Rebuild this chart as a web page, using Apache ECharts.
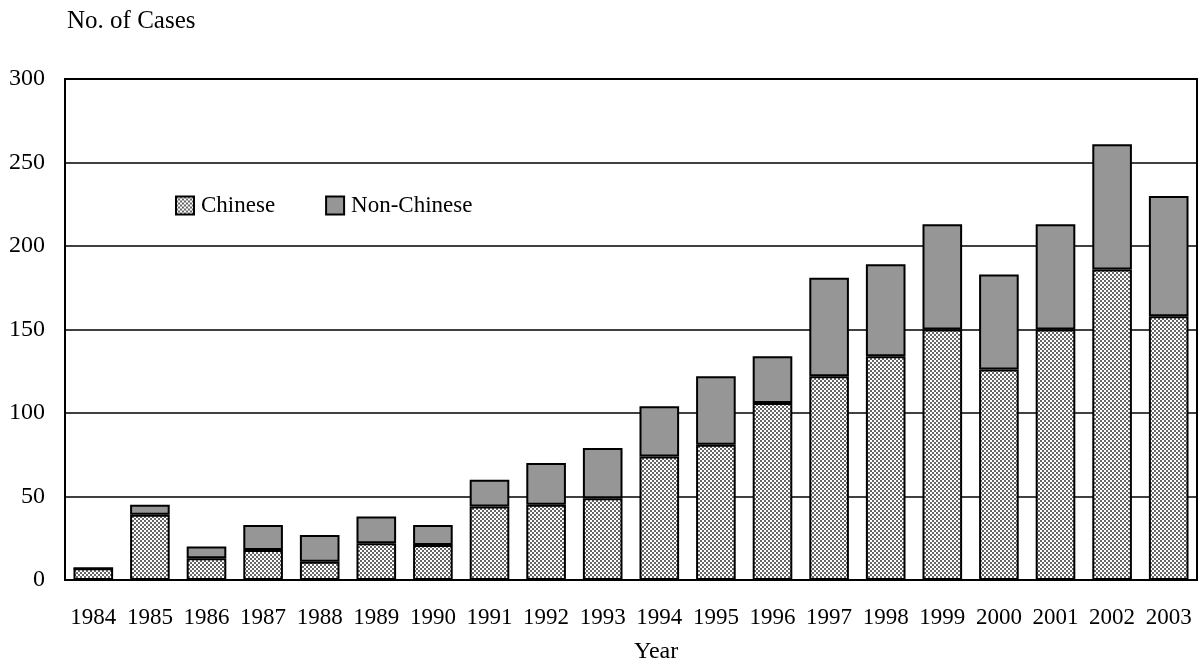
<!DOCTYPE html>
<html>
<head>
<meta charset="utf-8">
<script src="https://cdn.jsdelivr.net/npm/echarts@6/dist/echarts.min.js"></script>
<style>
html,body{margin:0;padding:0;background:#fff;}
#chart{width:1202px;height:672px;}
</style>
</head>
<body>
<div id="chart"></div>
<script>
var years = ['1984','1985','1986','1987','1988','1989','1990','1991','1992','1993','1994','1995','1996','1997','1998','1999','2000','2001','2002','2003'];
var chinese = [7,39,13,18,11,22,21,44,45,49,74,81,106,122,134,150,126,150,186,158];
var nonChinese = [0,6,7,15,16,16,12,16,25,30,30,41,28,59,55,63,57,63,75,72];
var yTicks = [0,50,100,150,200,250,300];

var FONT = '"Liberation Serif", "Times New Roman", serif';

// checkered fill pattern
var pc = document.createElement('canvas');
pc.width = 4; pc.height = 4;
var ctx = pc.getContext('2d');
ctx.fillStyle = '#ffffff'; ctx.fillRect(0,0,4,4);
ctx.fillStyle = '#666666';
ctx.fillRect(0,0,2,2); ctx.fillRect(2,2,2,2);
var pattern = {image: pc, repeat: 'repeat'};

var chart = echarts.init(document.getElementById('chart'));
chart.setOption({
  animation: false,
  backgroundColor: '#fff',
  textStyle: {fontFamily: FONT, color: '#000'},
  grid: {left: 65, right: 5, top: 79, bottom: 92, show: true, borderColor: '#000', borderWidth: 2, backgroundColor: 'transparent'},
  legend: {
    left: 175, top: 194, padding: 0,
    itemWidth: 18, itemHeight: 18, itemGap: 50,
    icon: 'rect',
    textStyle: {fontFamily: FONT, fontSize: 23, color: '#000', padding: [0,0,0,2]},
    data: ['Chinese','Non-Chinese']
  },
  xAxis: {
    type: 'category',
    data: years,
    axisLine: {lineStyle: {color: '#000', width: 2}},
    axisTick: {inside: true, length: 8, lineStyle: {color: '#000', width: 2}},
    axisLabel: {fontFamily: FONT, fontSize: 23, color: '#000', margin: 26, interval: 0},
    splitLine: {show: false}
  },
  yAxis: {
    type: 'value',
    min: 0, max: 300, interval: 50,
    axisLine: {show: true, lineStyle: {color: '#000', width: 2}},
    axisTick: {show: false},
    axisLabel: {fontFamily: FONT, fontSize: 24, color: '#000', margin: 20,
      formatter: function(v){ return yTicks.indexOf(v) >= 0 ? String(v) : ''; }},
    splitLine: {show: true, lineStyle: {color: '#000', width: 1.5}}
  },
  graphic: [
    {type: 'text', left: 67, top: 9, style: {text: 'No. of Cases', font: '25px ' + FONT, fill: '#000'}},
    {type: 'text', left: 634, top: 640, style: {text: 'Year', font: '24px ' + FONT, fill: '#000'}}
  ],
  series: [
    {
      name: 'Chinese', type: 'bar', stack: 'total', data: chinese,
      barCategoryGap: '30%',
      itemStyle: {color: pattern, borderColor: '#000', borderWidth: 2}
    },
    {
      name: 'Non-Chinese', type: 'bar', stack: 'total', data: nonChinese,
      barCategoryGap: '30%',
      itemStyle: {color: '#969696', borderColor: '#000', borderWidth: 2}
    }
  ]
});
</script>
</body>
</html>
